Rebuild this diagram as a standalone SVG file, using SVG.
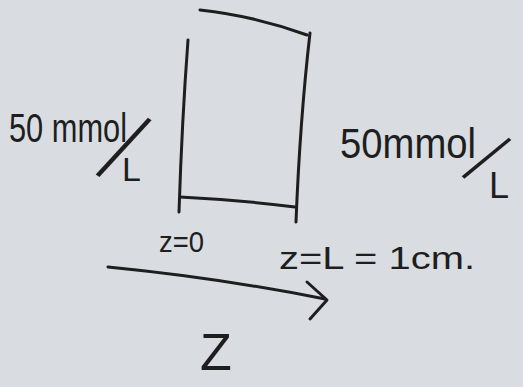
<svg xmlns="http://www.w3.org/2000/svg" width="523" height="387" viewBox="0 0 523 387">
<style>
.ink{fill:none;stroke:#1e1e1e;stroke-width:3;stroke-linecap:round;stroke-linejoin:round}
.t{font-family:"Liberation Sans","DejaVu Sans",sans-serif;fill:#1e1e1e}
</style>
<rect width="523" height="387" fill="#d9dde1"/>
<g id="slab">
<path class="ink" d="M200,10 Q255,16 307,35"/>
<path class="ink" d="M188,40 Q182,120 179,212"/>
<path class="ink" d="M310,33 Q300,120 296,222"/>
<path class="ink" d="M180,197 Q240,200 295,207"/>
</g>
<g id="left-conc">
<text class="t" x="9" y="142" font-size="41" textLength="118" lengthAdjust="spacingAndGlyphs">50 mmol</text>
<text class="t" transform="translate(122,150) rotate(34) scale(0.55,1)" x="-14.5" y="34" font-size="104">/</text>
<text class="t" x="122" y="181" font-size="34">L</text>
</g>
<g id="right-conc">
<text class="t" x="340" y="158" font-size="42" textLength="136" lengthAdjust="spacingAndGlyphs">50mmol</text>
<text class="t" transform="translate(485,160) rotate(42) scale(0.55,1)" x="-11.5" y="27" font-size="82">/</text>
<text class="t" x="489" y="198" font-size="36">L</text>
</g>
<g id="label-z0">
<text class="t" x="159" y="252" font-size="30" textLength="45" lengthAdjust="spacingAndGlyphs">z=0</text>
</g>
<g id="label-zL">
<text class="t" x="279" y="269" font-size="32" textLength="196" lengthAdjust="spacingAndGlyphs">z=L = 1cm.</text>
</g>
<g id="label-axis">
<text class="t" x="200" y="370" font-size="52">Z</text>
</g>
<g id="connectors">
<path class="ink" d="M108,267 Q220,278 325,299"/>
<polyline class="ink" points="307,282 327,300 310,319"/>
</g>
</svg>
